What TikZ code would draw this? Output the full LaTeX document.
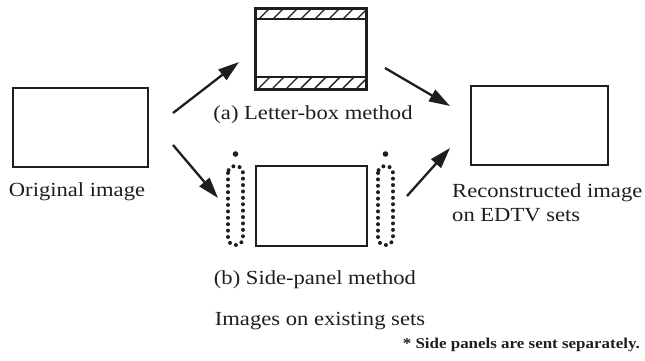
\documentclass[tikz,border=0pt]{standalone}
\usepackage{fontspec}
\setmainfont{Liberation Serif}[FakeStretch=1.13]
\usetikzlibrary{arrows.meta}
\definecolor{ink}{RGB}{30,30,30}
\begin{document}
\begin{tikzpicture}[x=1pt,y=-1pt,
  frame/.style={draw=ink,line width=2pt,inner sep=0pt,fill=white,anchor=north west},
  lbl/.style={text=ink,font=\fontsize{20}{24}\selectfont,inner sep=0pt},
  note/.style={text=ink,font=\bfseries\fontsize{15}{18}\selectfont,inner sep=0pt},
  conv/.style={draw=ink,line width=2.3pt,-{Triangle[length=21pt,width=13pt]}},
  panel/.style={draw=ink,line width=4pt,dash pattern=on 0pt off 6.4pt,line cap=round,rounded corners=7pt},
  hatch/.style={draw=ink,line width=1.4pt},
]
\useasboundingbox (0,0) rectangle (645,360);

% picture frames
\node[frame,minimum width=135pt,minimum height=79pt] (orig) at (12,87) {};
\node[frame,minimum width=110pt,minimum height=80pt] (lbox) at (255,8) {};
\node[frame,minimum width=111pt,minimum height=80pt] (spbox) at (255,165) {};
\node[frame,minimum width=137pt,minimum height=79pt] (recon) at (470,85) {};

% letter-box bars with hatching
\begin{scope}
  \clip (255,8) rectangle (365,19);
  \foreach \x in {245,259,...,371} \draw[hatch] (\x,19) -- (\x+11,8);
\end{scope}
\begin{scope}
  \clip (255,77) rectangle (365,88);
  \foreach \x in {245,259,...,371} \draw[hatch] (\x,88) -- (\x+11,77);
\end{scope}
\draw[hatch] (255,19) -- (365,19);
\draw[hatch] (255,77) -- (365,77);
\draw[draw=ink,line width=2pt] (lbox.north west) rectangle (lbox.south east);

% side panels sent separately
\draw[panel] (228,166) rectangle (243,245);
\draw[panel] (378,166) rectangle (393,245);
\fill[ink] (235.5,154) circle (2.8pt);
\fill[ink] (385.5,154) circle (2.8pt);

% labels
\node[lbl] (tOrig) at (77,192) {Original image};
\node[lbl] (tLetter) at (313,115) {(a) Letter-box method};
\node[lbl] (tSide) at (315,280) {(b) Side-panel method};
\node[lbl] (tExist) at (320,321) {Images on existing sets};
\node[lbl,align=left,anchor=north west] (tRecon) at (452,183) {Reconstructed image\\on EDTV sets};
\node[note,anchor=east] (tNote) at (640,345) {* Side panels are sent separately.};

% arrows
\coordinate (a1s) at (173,113); \coordinate (a1e) at (239,62);
\coordinate (a2s) at (173,145); \coordinate (a2e) at (218,198);
\coordinate (a3s) at (385,68);  \coordinate (a3e) at (450,106);
\coordinate (a4s) at (407,196); \coordinate (a4e) at (450,148);
\draw[conv] (a1s) -- (a1e);
\draw[conv] (a2s) -- (a2e);
\draw[conv] (a3s) -- (a3e);
\draw[conv] (a4s) -- (a4e);
\end{tikzpicture}
\end{document}
